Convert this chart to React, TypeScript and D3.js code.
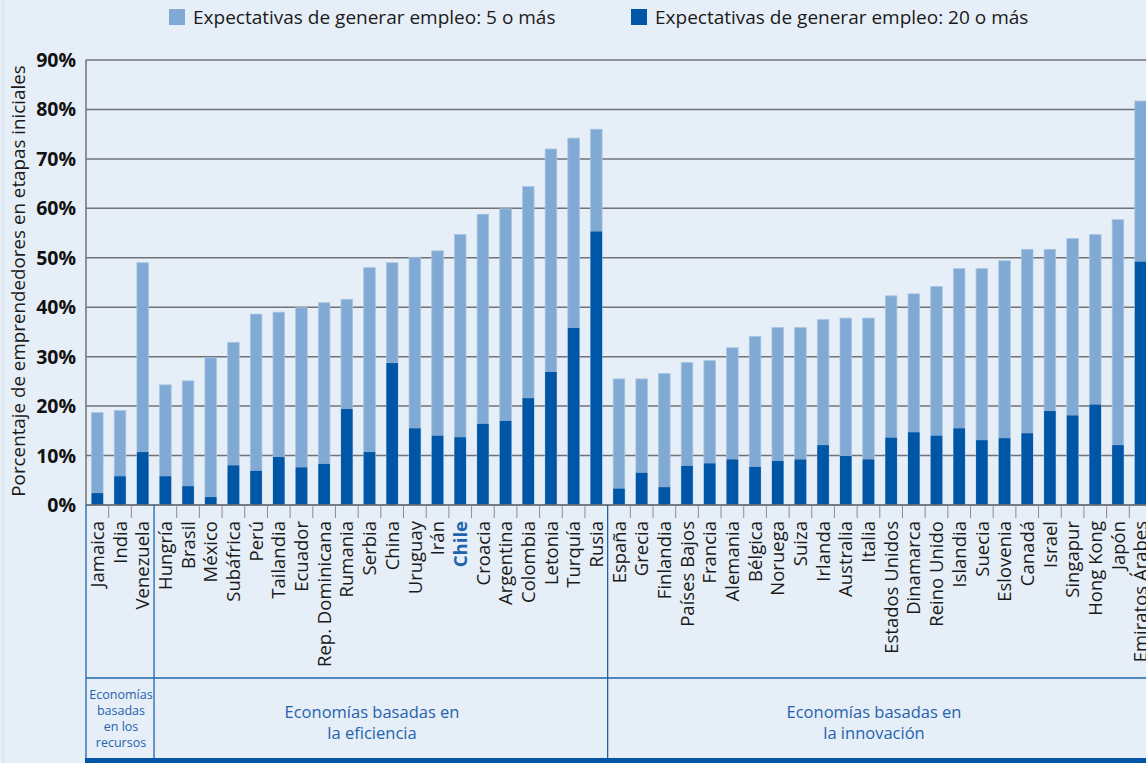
import React, { useEffect, useRef } from 'react';
import * as d3 from 'd3';

const countries = [
  'Jamaica', 'India', 'Venezuela',
  'Hungría', 'Brasil', 'México', 'Subáfrica', 'Perú', 'Tailandia', 'Ecuador',
  'Rep. Dominicana', 'Rumania', 'Serbia', 'China', 'Uruguay', 'Irán', 'Chile',
  'Croacia', 'Argentina', 'Colombia', 'Letonia', 'Turquía', 'Rusia',
  'España', 'Grecia', 'Finlandia', 'Países Bajos', 'Francia', 'Alemania', 'Bélgica',
  'Noruega', 'Suiza', 'Irlanda', 'Australia', 'Italia', 'Estados Unidos', 'Dinamarca',
  'Reino Unido', 'Islandia', 'Suecia', 'Eslovenia', 'Canadá', 'Israel', 'Singapur',
  'Hong Kong', 'Japón', 'Emiratos Árabes'
];

// Expectativas de generar empleo: 5 o más
const fiveOrMore = [
  18.7, 19.1, 49.0,
  24.3, 25.1, 29.8, 32.9, 38.6, 39.0, 39.9,
  40.9, 41.6, 48.0, 49.0, 50.1, 51.4, 54.7,
  58.8, 59.9, 64.4, 72.0, 74.2, 76.0,
  25.5, 25.5, 26.6, 28.8, 29.2, 31.8, 34.1,
  35.9, 35.9, 37.5, 37.8, 37.8, 42.3, 42.7,
  44.2, 47.8, 47.8, 49.4, 51.7, 51.7, 53.9,
  54.7, 57.7, 81.7
];

// Expectativas de generar empleo: 20 o más
const twentyOrMore = [
  2.4, 5.8, 10.7,
  5.8, 3.8, 1.6, 8.0, 6.9, 9.7, 7.6,
  8.3, 19.4, 10.7, 28.7, 15.5, 14.0, 13.7,
  16.4, 17.0, 21.6, 26.9, 35.8, 55.3,
  3.3, 6.5, 3.6, 7.9, 8.4, 9.2, 7.7,
  8.9, 9.2, 12.1, 9.9, 9.2, 13.6, 14.7,
  14.0, 15.5, 13.1, 13.5, 14.5, 19.0, 18.1,
  20.3, 12.1, 49.2
];

const groupNames = [
  ['Economías', 'basadas', 'en los', 'recursos'],
  ['Economías basadas en', 'la eficiencia'],
  ['Economías basadas en', 'la innovación']
];
const groupSizes = [3, 20, 24];

const yTicks = [0, 10, 20, 30, 40, 50, 60, 70, 80, 90];

const legendLabels = [
  'Expectativas de generar empleo: 5 o más',
  'Expectativas de generar empleo: 20 o más'
];

const highlight = 'Chile';

const App: React.FC = () => {
  const svgRef = useRef<SVGSVGElement>(null);

  useEffect(() => {
    if (!svgRef.current) return;
    const W = 1146;
    const H = 763;
    const font = '"Open Sans", "DejaVu Sans", sans-serif';
    const lightColor = '#80a9d3';
    const darkColor = '#0056a6';
    const lineBlue = '#1f63ad';
    const gridColor = '#707276';

    const left = 86;
    const right = 1146;
    const axisY = 505;
    const step = 22.68;

    d3.select(svgRef.current).selectAll('*').remove();
    const svg = d3.select(svgRef.current)
      .attr('width', W)
      .attr('height', H)
      .style('font-family', font);

    svg.append('rect').attr('width', W).attr('height', H).attr('fill', '#e6eef7');
    svg.append('line')
      .attr('x1', 3).attr('x2', 3).attr('y1', 0).attr('y2', H)
      .attr('stroke', '#d3dbe4').attr('stroke-width', 1);

    const x = d3.scaleBand<string>()
      .domain(countries)
      .range([left, left + step * countries.length])
      .paddingInner(0.49)
      .paddingOuter(0.245);

    const y = d3.scaleLinear().domain([0, 90]).range([axisY, 60]);

    const boundary = (i: number) => left + i * x.step();

    // Grid lines
    svg.append('g')
      .selectAll('line')
      .data(yTicks)
      .enter()
      .append('line')
      .attr('x1', left)
      .attr('x2', right)
      .attr('y1', d => y(d))
      .attr('y2', d => y(d))
      .attr('stroke', gridColor)
      .attr('stroke-width', 1.5);

    // Y axis line
    svg.append('line')
      .attr('x1', left).attr('x2', left)
      .attr('y1', y(90)).attr('y2', axisY)
      .attr('stroke', gridColor).attr('stroke-width', 1.5);

    // Y tick labels
    svg.append('g')
      .selectAll('text')
      .data(yTicks)
      .enter()
      .append('text')
      .attr('x', 76)
      .attr('y', d => y(d))
      .attr('dy', '0.36em')
      .attr('text-anchor', 'end')
      .style('font-size', '19.5px')
      .style('font-weight', 'bold')
      .attr('fill', '#111')
      .text(d => `${d}%`);

    // Y title
    svg.append('text')
      .attr('transform', `translate(25,${(65 + 497) / 2}) rotate(-90)`)
      .attr('text-anchor', 'middle')
      .style('font-size', '18.8px')
      .attr('fill', '#1a1a1a')
      .text('Porcentaje de emprendedores en etapas iniciales');

    // Bars
    const rows = countries.map((c, i) => ({ c, total: fiveOrMore[i], top: twentyOrMore[i] }));

    svg.append('g')
      .selectAll('rect')
      .data(rows)
      .enter()
      .append('rect')
      .attr('x', d => x(d.c)!)
      .attr('width', x.bandwidth())
      .attr('y', d => y(d.total))
      .attr('height', d => axisY - y(d.total))
      .attr('fill', lightColor)
      .attr('stroke', '#a9c5e2')
      .attr('stroke-width', 0.8);

    svg.append('g')
      .selectAll('rect')
      .data(rows)
      .enter()
      .append('rect')
      .attr('x', d => x(d.c)!)
      .attr('width', x.bandwidth())
      .attr('y', d => y(d.top))
      .attr('height', d => axisY - y(d.top))
      .attr('fill', darkColor);

    // X axis
    svg.append('line')
      .attr('x1', left).attr('x2', right)
      .attr('y1', axisY).attr('y2', axisY)
      .attr('stroke', gridColor).attr('stroke-width', 1.5);

    // Group boundaries
    const groupStarts: number[] = [];
    groupSizes.reduce((acc, n) => { groupStarts.push(acc); return acc + n; }, 0);

    // Category separators
    svg.append('g')
      .selectAll('line')
      .data(d3.range(1, countries.length).filter(i => !groupStarts.includes(i)))
      .enter()
      .append('line')
      .attr('x1', d => boundary(d))
      .attr('x2', d => boundary(d))
      .attr('y1', axisY)
      .attr('y2', 518)
      .attr('stroke', '#8a8c90')
      .attr('stroke-width', 1);

    // Category labels
    svg.append('g')
      .selectAll('text')
      .data(countries)
      .enter()
      .append('text')
      .attr('transform', d => `translate(${x(d)! + x.bandwidth() / 2},521) rotate(-90)`)
      .attr('dy', '0.36em')
      .attr('text-anchor', 'end')
      .style('font-size', '18.5px')
      .style('font-weight', d => (d === highlight ? 'bold' : 'normal'))
      .attr('fill', d => (d === highlight ? lineBlue : '#1a1a1a'))
      .text(d => d);

    // Group frame
    svg.append('g')
      .selectAll('line')
      .data(groupStarts)
      .enter()
      .append('line')
      .attr('x1', d => boundary(d))
      .attr('x2', d => boundary(d))
      .attr('y1', axisY)
      .attr('y2', 758)
      .attr('stroke', lineBlue)
      .attr('stroke-width', 1.3);

    svg.append('line')
      .attr('x1', left).attr('x2', right)
      .attr('y1', 678).attr('y2', 678)
      .attr('stroke', lineBlue).attr('stroke-width', 1.3);

    svg.append('rect')
      .attr('x', 85).attr('y', 758)
      .attr('width', right - 85).attr('height', 5)
      .attr('fill', '#0056a6');

    // Group labels
    const groupCenters = [121, 372, 874];
    groupNames.forEach((lines, gi) => {
      const small = gi === 0;
      const t = svg.append('text')
        .attr('text-anchor', 'middle')
        .attr('fill', lineBlue)
        .style('font-size', small ? '12.5px' : '16.5px');
      lines.forEach((ln, li) => {
        t.append('tspan')
          .attr('x', groupCenters[gi])
          .attr('y', small ? 699 + li * 16 : 718 + li * 21)
          .text(ln);
      });
    });

    // Legend
    const legendX = [169, 631];
    legendLabels.forEach((lab, i) => {
      svg.append('rect')
        .attr('x', legendX[i]).attr('y', 9)
        .attr('width', 16).attr('height', 16)
        .attr('fill', i === 0 ? lightColor : darkColor);
      svg.append('text')
        .attr('x', legendX[i] + 24)
        .attr('y', 17)
        .attr('dy', '0.36em')
        .style('font-size', '19px')
        .attr('fill', '#1a1a1a')
        .text(lab);
    });
  }, []);

  return <svg ref={svgRef} style={{ position: 'absolute', left: 0, top: 0 }}></svg>;
};

export default App;
